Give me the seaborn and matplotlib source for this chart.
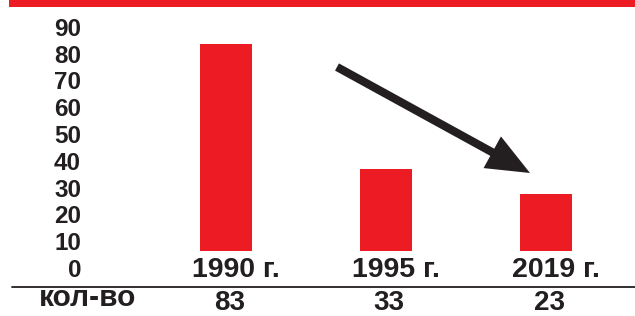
import matplotlib
matplotlib.use("Agg")
import matplotlib.pyplot as plt
import matplotlib.transforms as mtransforms
from matplotlib.patches import Rectangle, FancyArrowPatch, ArrowStyle
from matplotlib.lines import Line2D
import seaborn as sns
import pandas as pd

# ---- data ----
years = ["1990 г.", "1995 г.", "2019 г."]
counts = [83, 33, 23]
ytick_values = [0, 10, 20, 30, 40, 50, 60, 70, 80, 90]
row_label = "кол-во"

RED = "#ed1c24"
DARK = "#231f20"

sns.set_style("white")
plt.rcParams["font.family"] = ["Liberation Sans", "DejaVu Sans"]
plt.rcParams["font.weight"] = "bold"
plt.rcParams["text.color"] = DARK

W, H = 635, 316
fig = plt.figure(figsize=(W / 100, H / 100), dpi=100)

# main bar axes: baseline at y=251px
base_px = 251
px_per_unit = 2.5
ax = fig.add_axes([0, (H - base_px) / H, 1, base_px / H])
df = pd.DataFrame({"year": years, "count": counts})
sns.barplot(data=df, x="year", y="count", color=RED, saturation=1,
            width=0.325, linewidth=0, ax=ax)
ax.set_xlim(-226 / 160, (W - 226) / 160)
ax.set_ylim(0, base_px / px_per_unit)
ax.set_yticks([])
ax.set_xlabel("")
ax.set_ylabel("")
for s in ax.spines.values():
    s.set_visible(False)
ax.tick_params(axis="x", length=0, pad=4.0, labelsize=20.5, labelcolor=DARK)
for lab in ax.get_xticklabels():
    lab.set_fontweight("bold")
    lab.set_transform(lab.get_transform() +
                      mtransforms.ScaledTranslation(10 / 100, 0, fig.dpi_scale_trans))
ax.patch.set_alpha(0)

# y tick label axis (separate scale as in the reference)
y0_px, y90_px = 268, 26.7
lab_ax = fig.add_axes([81 / W, (H - y0_px) / H, 0.0001, (y0_px - y90_px) / H])
lab_ax.set_ylim(0, 90)
lab_ax.set_yticks(ytick_values)
lab_ax.set_yticklabels([str(v) for v in ytick_values])
lab_ax.set_xticks([])
for s in lab_ax.spines.values():
    s.set_visible(False)
lab_ax.tick_params(axis="y", length=0, pad=0, labelsize=17.5, labelcolor=DARK)
for lab in lab_ax.get_yticklabels():
    lab.set_fontweight("bold")
lab_ax.patch.set_alpha(0)

# bottom row with counts
blend = mtransforms.blended_transform_factory(ax.transData, fig.transFigure)
for i, v in enumerate(counts):
    ax.text(i + 0.02, (H - 309.5) / H, str(v), transform=blend, ha="center",
            va="baseline", fontsize=20, fontweight="bold", color=DARK,
            clip_on=False)
fig.text(88 / W, (H - 306.5) / H, row_label, ha="center", va="baseline",
         fontsize=21.5, fontweight="bold", color=DARK)

# separator line
fig.add_artist(Line2D([12 / W, 1], [1 - 286.7 / H] * 2, lw=1.3, color=DARK,
                      transform=fig.transFigure))

# red band at top
fig.add_artist(Rectangle((9 / W, 1 - 7.3 / H), 1, 7.3 / H, facecolor=RED,
                         edgecolor="none", transform=fig.transFigure))

# trend arrow
arrow = FancyArrowPatch(posA=(337 / W, 1 - 67 / H), posB=(530 / W, 1 - 173 / H),
                        transform=fig.transFigure,
                        arrowstyle=ArrowStyle.Simple(head_length=31, head_width=26,
                                                     tail_width=5.9),
                        mutation_scale=1, facecolor=DARK, edgecolor="none",
                        lw=0, shrinkA=0, shrinkB=0)
fig.add_artist(arrow)

fig.savefig("out.png", dpi=100)
